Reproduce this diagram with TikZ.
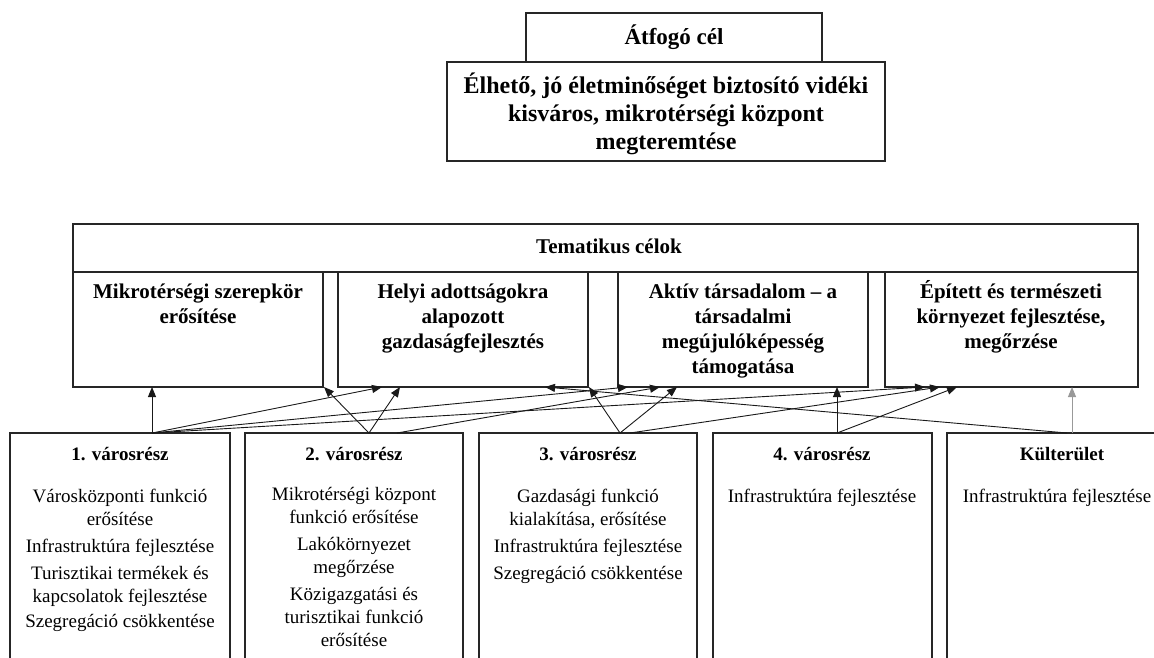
\documentclass[tikz,border=0pt]{standalone}
\usepackage{fontspec}
\setmainfont{Liberation Serif}
\usetikzlibrary{arrows.meta}
\newcommand\mlines[1]{\begin{tabular}[t]{@{}c@{}}#1\end{tabular}}
\begin{document}
\begin{tikzpicture}[x=1pt,y=-1pt,
  box/.style={draw=black!85, line width=1.2pt, inner sep=0pt, outer sep=0pt, anchor=north west},
  atfont/.style={anchor=base, inner sep=0pt, font=\bfseries\fontsize{23}{27}\selectfont},
  bigfont/.style={anchor=base, inner sep=0pt, font=\bfseries\fontsize{24}{28}\selectfont},
  th/.style={anchor=base, inner sep=0pt, font=\bfseries\fontsize{21}{25}\selectfont},
  hd/.style={anchor=base, inner sep=0pt, font=\bfseries\fontsize{19}{23}\selectfont},
  it/.style={anchor=base, inner sep=0pt, font=\fontsize{19}{23}\selectfont},
  conn/.style={draw=black!90, line width=0.9pt, -{Triangle[length=10pt,width=8pt]}},
  conng/.style={conn, draw=black!40}
]
\useasboundingbox (0,0) rectangle (1154,657);
\fill[white] (0,0) rectangle (1154,657);
\clip (0,0) rectangle (1154,657);

% top boxes
\node[box, minimum width=296pt, minimum height=49pt] (atf) at (526,13) {};
\node[box, minimum width=438pt, minimum height=99pt] (big) at (447,62) {};
\node[atfont] (atfT) at (674,44) {Átfogó cél};
\node[bigfont] (bigT) at (666,93) {\mlines{Élhető, jó életminőséget biztosító vidéki\\kisváros, mikrotérségi központ\\megteremtése}};

% thematic boxes
\node[box, minimum width=1065pt, minimum height=48pt] (tem) at (73,224) {};
\node[box, minimum width=250pt, minimum height=115pt] (mk) at (73,272) {};
\node[box, minimum width=250pt, minimum height=115pt] (hk) at (338,272) {};
\node[box, minimum width=250pt, minimum height=115pt] (ak) at (618,272) {};
\node[box, minimum width=253pt, minimum height=115pt] (ek) at (885,272) {};
\node[th] (temT) at (609,253) {Tematikus célok};
\node[th] (mkT) at (198,298) {\mlines{Mikrotérségi szerepkör\\erősítése}};
\node[th] (hkT) at (463,298) {\mlines{Helyi adottságokra\\alapozott\\gazdaságfejlesztés}};
\node[th] (akT) at (743,298) {\mlines{Aktív társadalom – a\\társadalmi\\megújulóképesség\\támogatása}};
\node[th] (ekT) at (1011,298) {\mlines{Épített és természeti\\környezet fejlesztése,\\megőrzése}};

% bottom boxes
\node[box, minimum width=220pt, minimum height=260pt] (v1) at (10,433) {};
\node[box, minimum width=218pt, minimum height=260pt] (v2) at (245,433) {};
\node[box, minimum width=218pt, minimum height=260pt] (v3) at (479,433) {};
\node[box, minimum width=219pt, minimum height=260pt] (v4) at (713,433) {};
\node[box, minimum width=226pt, minimum height=260pt] (kt) at (947,433) {};

\node[hd] (v1H) at (120,460) {1. városrész};
\node[hd] (v2H) at (354,460) {2. városrész};
\node[hd] (v3H) at (588,460) {3. városrész};
\node[hd] (v4H) at (822,460) {4. városrész};
\node[hd] (ktH) at (1062,460) {Külterület};

\node[it] (v1T) at (120,502) {\mlines{Városközponti funkció\\erősítése\\[4pt]Infrastruktúra fejlesztése\\[4pt]Turisztikai termékek és\\kapcsolatok fejlesztése\\[2pt]Szegregáció csökkentése}};
\node[it] (v2T) at (354,500) {\mlines{Mikrotérségi központ\\funkció erősítése\\[4pt]Lakókörnyezet\\megőrzése\\[4pt]Közigazgatási és\\turisztikai funkció\\erősítése}};
\node[it] (v3T) at (588,502) {\mlines{Gazdasági funkció\\kialakítása, erősítése\\[4pt]Infrastruktúra fejlesztése\\[4pt]Szegregáció csökkentése}};
\node[it] (v4T) at (822,502) {Infrastruktúra fejlesztése};
\node[it] (ktT) at (1057,502) {Infrastruktúra fejlesztése};

% connector end points
\coordinate (m1) at ([xshift=79pt]mk.south west);
\coordinate (m2) at ([xshift=251pt]mk.south west);
\coordinate (h1) at ([xshift=44pt]hk.south west);
\coordinate (h2) at ([xshift=62pt]hk.south west);
\coordinate (h3) at ([xshift=207pt]hk.south west);
\coordinate (h4) at ([xshift=251pt]hk.south west);
\coordinate (a1) at ([xshift=10pt]ak.south west);
\coordinate (a2) at ([xshift=42pt]ak.south west);
\coordinate (a3) at ([xshift=59pt]ak.south west);
\coordinate (a4) at ([xshift=219pt]ak.south west);
\coordinate (e1) at ([xshift=40pt]ek.south west);
\coordinate (e2) at ([xshift=55pt]ek.south west);
\coordinate (e3) at ([xshift=72pt]ek.south west);
\coordinate (e4) at ([xshift=187pt]ek.south west);

\coordinate (s1) at ([xshift=142pt]v1.north west);
\coordinate (s2) at ([xshift=124pt]v2.north west);
\coordinate (s2b) at ([xshift=152pt]v2.north west);
\coordinate (s3) at ([xshift=141pt]v3.north west);
\coordinate (s3b) at ([xshift=151pt]v3.north west);
\coordinate (s4) at ([xshift=124pt]v4.north west);
\coordinate (s5a) at ([xshift=120pt]kt.north west);
\coordinate (s5b) at ([xshift=125pt]kt.north west);

% connectors
\draw[conn] (s1) -- (m1);
\draw[conn] (s1) -- (h1);
\draw[conn] (s1) -- (a1);
\draw[conn] (s1) -- (e1);
\draw[conn] (s2) -- (m2);
\draw[conn] (s2) -- (h2);
\draw[conn] (s2b) -- (a2);
\draw[conn] (s3) -- (h4);
\draw[conn] (s3) -- (a3);
\draw[conn] (s3b) -- (e2);
\draw[conn] (s4) -- (a4);
\draw[conn] (s4) -- (e3);
\draw[conn] (s5a) -- (h3);
\draw[conng] (s5b) -- (e4);
\end{tikzpicture}
\end{document}
